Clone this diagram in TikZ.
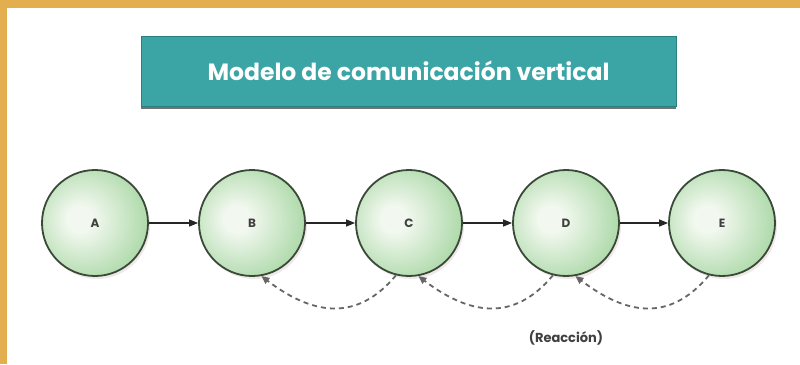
\documentclass[tikz,border=0pt]{standalone}
\usepackage{fontspec}
\setmainfont{Poppins}
\setsansfont{Poppins}
\usetikzlibrary{shadows,arrows.meta,calc}
\definecolor{frameor}{HTML}{E3AE4E}
\definecolor{teal1}{HTML}{3BA4A4}
\definecolor{teal2}{HTML}{2C7F80}
\definecolor{gin}{HTML}{F2F8EF}
\definecolor{gmid}{HTML}{A6D6A2}
\definecolor{gout}{HTML}{6FB76E}
\definecolor{bord}{HTML}{3A4A39}
\definecolor{txt}{HTML}{404040}
\pgfdeclareradialshading{ballgreen}{\pgfpoint{-8bp}{2bp}}{color(0bp)=(gin); color(6bp)=(gin); color(32bp)=(gmid); color(52bp)=(gout); color(60bp)=(gout)}
\tikzset{
  ballnode/.style={circle, minimum size=106pt, inner sep=0pt, draw=bord, line width=1.8pt,
    shading=ballgreen, font=\bfseries\fontsize{12}{14}\selectfont, text=txt,
    drop shadow={shadow xshift=2pt, shadow yshift=-3pt, opacity=0.22, fill=black!60!red!40}},
  flowarr/.style={-{Triangle[length=9pt,width=7pt]}, line width=1.2pt, draw=black!85},
  backarr/.style={-{Triangle[length=8pt,width=7pt]}, line width=1.8pt, draw=black!60, dash pattern=on 5pt off 4pt},
  titlebox/.style={rectangle, fill=teal1, draw=teal2, line width=0.8pt, minimum width=535pt, minimum height=70pt,
    text=white, font=\bfseries\fontsize{23.5}{27}\selectfont,
    drop shadow={shadow xshift=0pt, shadow yshift=-3pt, opacity=0.55, fill=black}},
  lbl/.style={font=\bfseries\fontsize{13}{15}\selectfont, text=txt}
}
\begin{document}
\begin{tikzpicture}[x=1pt,y=-1pt]
\useasboundingbox (0,0) rectangle (800,364);
\fill[white] (0,0) rectangle (800,364);
\fill[frameor] (0,0) rectangle (800,8);
\fill[frameor] (0,0) rectangle (7,364);
\node[titlebox] (T) at (408.5,71) {Modelo de comunicación vertical};
\node[ballnode] (A) at (95,223) {A};
\node[ballnode] (B) at (252,223) {B};
\node[ballnode] (C) at (409,223) {C};
\node[ballnode] (D) at (566,223) {D};
\node[ballnode] (E) at (722,223) {E};
\draw[flowarr] (A) -- (B);
\draw[flowarr] (B) -- (C);
\draw[flowarr] (C) -- (D);
\draw[flowarr] (D) -- (E);
\draw[backarr] (C.-104) .. controls +(-40,48) and +(50,38) .. (B.-80);
\draw[backarr] (D.-104) .. controls +(-40,48) and +(50,38) .. (C.-80);
\draw[backarr] (E.-104) .. controls +(-40,48) and +(50,38) .. (D.-80);
\node[lbl] (R) at (566,338) {(Reacción)};
\end{tikzpicture}
\end{document}
